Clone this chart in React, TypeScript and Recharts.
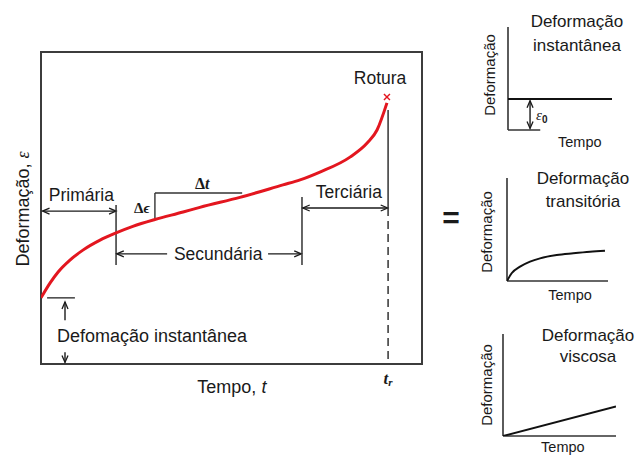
import React from 'react';
import { LineChart, Line, XAxis, YAxis, ReferenceLine, ReferenceDot, ReferenceArea } from 'recharts';

// curva de fluência principal (tempo / deformação, unidades 0-100)
const creepTime = [0, 2.4, 4.5, 7.6, 11.0, 15.5, 19.7, 24.1, 29.9, 37.3, 41.7, 52.2, 63.5, 68.0, 73.2, 81.1, 85.6, 88.2, 90.8];
const creepStrain = [21.2, 26.0, 29.5, 33.3, 36.5, 39.7, 42.0, 44.1, 46.3, 48.7, 50.2, 53.4, 57.4, 59.0, 61.5, 66.3, 70.8, 75.0, 83.7];
// limites dos estágios: início, fim da primária, fim da secundária, rotura
const stageBounds = [0, 19.7, 68.5, 91.1];

// gráficos pequenos
const instTime = [0, 100];
const instStrain = [30, 30];
const transTime = [0, 4.6, 12.9, 22.8, 32.7, 49.2, 65.6, 82.2, 97];
const transStrain = [0, 7.5, 13.9, 18.8, 22.0, 25.2, 26.9, 28.4, 29.4];
const viscTime = [0, 100];
const viscStrain = [0, 29];

const creep = creepTime.map((t, i) => ({ t, e: creepStrain[i] }));
const inst = instTime.map((t, i) => ({ t, v: instStrain[i] }));
const trans = transTime.map((t, i) => ({ t, v: transStrain[i] }));
const visc = viscTime.map((t, i) => ({ t, v: viscStrain[i] }));

const SANS = '"Liberation Sans", Arial, sans-serif';
const SERIF = '"Liberation Serif", "Times New Roman", serif';
const INK = '#1a1a1a';
const RED = '#e3161f';

type TxtOpts = { size?: number; anchor?: 'start' | 'middle' | 'end'; rotate?: number; family?: string; weight?: number | string; italic?: boolean; fill?: string };

const textShape = (content: React.ReactNode, o: TxtOpts = {}) => (p: any) => (
  <text
    x={p.cx}
    y={p.cy}
    textAnchor={o.anchor ?? 'middle'}
    dominantBaseline="central"
    fontSize={o.size ?? 17.5}
    fontFamily={o.family ?? SANS}
    fontWeight={o.weight}
    fontStyle={o.italic ? 'italic' : undefined}
    fill={o.fill ?? INK}
    transform={o.rotate ? `rotate(${o.rotate} ${p.cx} ${p.cy})` : undefined}
  >
    {content}
  </text>
);

const arrowShape = (head: 'start' | 'end' | 'both') => (p: any) => {
  const { x1, y1, x2, y2 } = p;
  const a = Math.atan2(y2 - y1, x2 - x1);
  const tip = (x: number, y: number, ang: number) => {
    const bx = x - 7 * Math.cos(ang);
    const by = y - 7 * Math.sin(ang);
    const nx = -Math.sin(ang) * 3;
    const ny = Math.cos(ang) * 3;
    return <polyline points={`${bx + nx},${by + ny} ${x},${y} ${bx - nx},${by - ny}`} fill="none" stroke={INK} strokeWidth={1.3} />;
  };
  return (
    <g>
      <line x1={x1} y1={y1} x2={x2} y2={y2} stroke={INK} strokeWidth={1.4} />
      {head !== 'start' && tip(x2, y2, a)}
      {head !== 'end' && tip(x1, y1, a + Math.PI)}
    </g>
  );
};

const crossShape = (p: any) => (
  <g stroke={RED} strokeWidth={1.4}>
    <line x1={p.cx - 3} y1={p.cy - 3} x2={p.cx + 3} y2={p.cy + 3} />
    <line x1={p.cx - 3} y1={p.cy + 3} x2={p.cx + 3} y2={p.cy - 3} />
  </g>
);

const seg = (x1: number, y1: number, x2: number, y2: number) => [{ x: x1, y: y1 }, { x: x2, y: y2 }];

function SmallChart({ left, top, width, height, margin, data, title, tempo, ylab, xAxisEnd, children }: any) {
  return (
    <div style={{ position: 'absolute', left, top }}>
      <LineChart width={width} height={height} data={data} margin={margin}>
        <XAxis type="number" dataKey="t" domain={[0, 100]} allowDataOverflow hide />
        <YAxis type="number" domain={[0, 100]} allowDataOverflow hide />
        <ReferenceLine segment={seg(0, 0, 0, 100)} stroke="#333" strokeWidth={1.6} ifOverflow="visible" />
        <ReferenceLine segment={seg(0, 0, xAxisEnd, 0)} stroke="#333" strokeWidth={1.6} ifOverflow="visible" />
        <ReferenceDot x={title[0]} y={title[1]} ifOverflow="visible" shape={textShape(title[3], { size: 17 })} />
        <ReferenceDot x={title[0]} y={title[2]} ifOverflow="visible" shape={textShape(title[4], { size: 17 })} />
        <ReferenceDot x={tempo[0]} y={tempo[1]} ifOverflow="visible" shape={textShape('Tempo', { size: 14.5 })} />
        <ReferenceDot x={ylab[0]} y={ylab[1]} ifOverflow="visible" shape={textShape('Deformação', { size: 15, rotate: -90 })} />
        {children}
        <Line type="monotone" dataKey="v" stroke="#111" strokeWidth={2} dot={false} isAnimationActive={false} />
      </LineChart>
    </div>
  );
}

export default function App() {
  const [t0, t1, t2, tr] = stageBounds;
  return (
    <div style={{ position: 'absolute', left: 0, top: 0, width: 638, height: 455, background: '#fff', overflow: 'hidden' }}>
      <div style={{ position: 'absolute', left: 0, top: 0 }}>
        <LineChart width={638} height={455} data={creep} margin={{ top: 52, right: 216, bottom: 91, left: 41 }}>
          <XAxis type="number" dataKey="t" domain={[0, 100]} allowDataOverflow hide />
          <YAxis type="number" domain={[0, 100]} allowDataOverflow hide />
          <ReferenceArea x1={0} x2={100} y1={0} y2={100} fill="none" stroke="#3c3c3c" strokeWidth={2} ifOverflow="visible" />

          {/* primária */}
          <ReferenceLine segment={seg(t0 + 0.4, 49, t1, 49)} ifOverflow="visible" shape={arrowShape('both')} />
          <ReferenceDot x={10.6} y={54.2} ifOverflow="visible" shape={textShape('Primária')} />
          <ReferenceLine segment={seg(t1, 51, t1, 31.7)} stroke="#333" strokeWidth={1.5} ifOverflow="visible" />

          {/* secundária */}
          <ReferenceLine segment={seg(33.1, 35.3, t1 + 0.2, 35.3)} ifOverflow="visible" shape={arrowShape('end')} />
          <ReferenceLine segment={seg(59.6, 35.3, t2 - 0.2, 35.3)} ifOverflow="visible" shape={arrowShape('end')} />
          <ReferenceDot x={46.5} y={35.3} ifOverflow="visible" shape={textShape('Secundária')} />
          <ReferenceLine segment={seg(t2, 53.5, t2, 31.7)} stroke="#333" strokeWidth={1.5} ifOverflow="visible" />

          {/* terciária */}
          <ReferenceLine segment={seg(t2 + 0.2, 50, tr - 0.1, 50)} ifOverflow="visible" shape={arrowShape('both')} />
          <ReferenceDot x={80.8} y={55.1} ifOverflow="visible" shape={textShape('Terciária')} />
          <ReferenceLine segment={seg(tr, 81.4, tr, 50)} stroke="#333" strokeWidth={1.5} ifOverflow="visible" />
          <ReferenceLine segment={seg(tr, 50, tr, 0)} stroke="#333" strokeWidth={1.5} strokeDasharray="8 5" ifOverflow="visible" />

          {/* Δt / Δε */}
          <ReferenceLine segment={seg(29.9, 54.8, 52.8, 54.8)} stroke="#333" strokeWidth={1.4} ifOverflow="visible" />
          <ReferenceLine segment={seg(29.9, 54.8, 29.9, 46.3)} stroke="#333" strokeWidth={1.4} ifOverflow="visible" />
          <ReferenceDot x={42.3} y={58} ifOverflow="visible" shape={textShape(<><tspan>Δ</tspan><tspan fontStyle="italic">t</tspan></>, { family: SERIF, weight: 700, size: 16 })} />
          <ReferenceDot x={26.5} y={50} ifOverflow="visible" shape={textShape(<><tspan>Δ</tspan><tspan fontStyle="italic">ϵ</tspan></>, { family: SERIF, weight: 700, size: 15 })} />

          {/* deformação instantânea */}
          <ReferenceLine segment={seg(1.6, 21.2, 8.9, 21.2)} stroke="#333" strokeWidth={1.4} ifOverflow="visible" />
          <ReferenceLine segment={seg(6.3, 14, 6.3, 19.9)} ifOverflow="visible" shape={arrowShape('end')} />
          <ReferenceLine segment={seg(6.3, 3.8, 6.3, 0.5)} ifOverflow="visible" shape={arrowShape('end')} />
          <ReferenceDot x={4.2} y={9} ifOverflow="visible" shape={textShape('Defomação instantânea', { anchor: 'start', size: 18 })} />

          {/* rotura */}
          <ReferenceDot x={89} y={91.7} ifOverflow="visible" shape={textShape('Rotura')} />
          <ReferenceDot x={90.8} y={85.6} ifOverflow="visible" shape={crossShape} />

          {/* eixos */}
          <ReferenceDot x={50.1} y={-7.4} ifOverflow="visible" shape={textShape(<><tspan>Tempo, </tspan><tspan fontStyle="italic">t</tspan></>, { size: 18 })} />
          <ReferenceDot x={tr} y={-4.5} ifOverflow="visible" shape={textShape(<><tspan>t</tspan><tspan dy={4} fontSize={11}>r</tspan></>, { family: SERIF, weight: 700, italic: true, size: 17 })} />
          <ReferenceDot x={-4.7} y={49.7} ifOverflow="visible" shape={textShape(<><tspan>Deformação, </tspan><tspan fontFamily={SERIF} fontStyle="italic">ε</tspan></>, { size: 18, rotate: -90 })} />
          <ReferenceDot x={107.6} y={46.8} ifOverflow="visible" shape={textShape('=', { size: 30, weight: 700 })} />

          <Line type="monotone" dataKey="e" stroke={RED} strokeWidth={3} dot={false} isAnimationActive={false} />
        </LineChart>
      </div>

      <SmallChart
        left={440} top={0} width={198} height={160}
        margin={{ top: 27, right: 26, bottom: 30, left: 68 }}
        data={inst} xAxisEnd={31}
        title={[66.3, 104.9, 82.5, 'Deformação', 'instantânea']}
        tempo={[69, -11.7]} ylab={[-17.3, 53.4]}
      >
        <ReferenceLine segment={seg(21.2, 28.5, 21.2, 1.5)} ifOverflow="visible" shape={arrowShape('both')} />
        <ReferenceDot x={27} y={14.6} ifOverflow="visible" shape={textShape(<><tspan fontFamily={SERIF} fontStyle="italic">ε</tspan><tspan dy={4} fontSize={10} fontWeight={700}>0</tspan></>, { anchor: 'start', size: 15 })} />
      </SmallChart>

      <SmallChart
        left={440} top={160} width={198} height={150}
        margin={{ top: 18, right: 30, bottom: 29, left: 67 }}
        data={trans} xAxisEnd={100}
        title={[75.2, 100, 76.7, 'Deformação', 'transitória']}
        tempo={[62.4, -13.6]} ylab={[-19.8, 47.6]}
      />

      <SmallChart
        left={440} top={310} width={198} height={145}
        margin={{ top: 24, right: 22, bottom: 19, left: 63 }}
        data={visc} xAxisEnd={100}
        title={[75.2, 99, 77.5, 'Deformação', 'viscosa']}
        tempo={[53, -10.8]} ylab={[-14.2, 50]}
      />
    </div>
  );
}
